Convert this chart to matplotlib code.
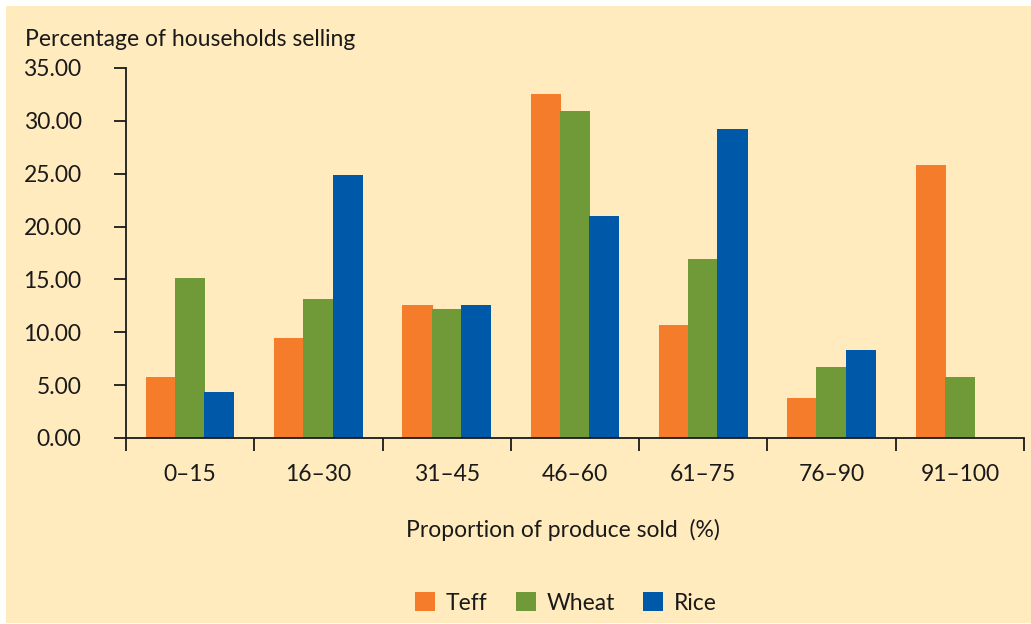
import matplotlib
matplotlib.use("Agg")
import matplotlib.pyplot as plt
from matplotlib.patches import Rectangle, Patch
import numpy as np

categories = ["0–15", "16–30", "31–45", "46–60", "61–75", "76–90", "91–100"]
teff = [5.8, 9.45, 12.6, 32.5, 10.7, 3.8, 25.8]
wheat = [15.1, 13.15, 12.2, 30.9, 16.9, 6.7, 5.8]
rice = [4.35, 24.9, 12.6, 21.0, 29.2, 8.3, 0.0]
series_names = ["Teff", "Wheat", "Rice"]
yticks = [0, 5, 10, 15, 20, 25, 30, 35]

colors = ["#F47C2B", "#6F9A37", "#0058A8"]
bg = "#FFEBBE"
plt.rcParams['font.family'] = ['Lato', 'DejaVu Sans']

fig = plt.figure(figsize=(10.31, 6.24), dpi=100, facecolor="white")
fig.patches.append(Rectangle((6/1031, 1/624), 1 - 6/1031, 617/624,
                             transform=fig.transFigure, facecolor=bg,
                             edgecolor="none", zorder=-10))

ax = fig.add_axes([126/1031, 186/624, 898/1031, 370/624])
ax.set_facecolor("none")

x = np.arange(len(categories))
w = 0.235
off = 0.228
for i, (vals, c) in enumerate(zip([teff, wheat, rice], colors)):
    ax.bar(x + (i - 1) * off, vals, width=w, color=c, linewidth=0, zorder=2)

ax.set_xlim(-0.5, len(categories) - 0.5)
ax.set_ylim(0, 35)
for s in ["top", "right"]:
    ax.spines[s].set_visible(False)
for s in ["left", "bottom"]:
    ax.spines[s].set_color("#1a1a1a")
    ax.spines[s].set_linewidth(1.3)

ax.set_yticks(yticks)
ax.set_yticklabels([f"{v:.2f}" for v in yticks])
ax.tick_params(axis="y", direction="out", length=9, width=1.3, pad=23,
               labelsize=16.5, colors="#1a1a1a")

ax.set_xticks(np.arange(len(categories) + 1) - 0.5)
ax.set_xticklabels([])
ax.tick_params(axis="x", which="major", direction="out", length=9, width=1.3,
               colors="#1a1a1a")
ax.set_xticks(x, minor=True)
ax.set_xticklabels(categories, minor=True)
ax.tick_params(axis="x", which="minor", length=0, pad=19, labelsize=16.5,
               labelcolor="#1a1a1a")

fig.text(25/1031, 1 - 40/624, "Percentage of households selling",
         fontsize=16.5, color="#1a1a1a", va="center", ha="left")
fig.text(563/1031, 1 - 530/624, "Proportion of produce sold  (%)",
         fontsize=16.5, color="#1a1a1a", va="center", ha="center")

handles = [Patch(facecolor=c, edgecolor="none") for c in colors]
fig.legend(handles, series_names, loc="center", bbox_to_anchor=(566/1031, 1 - 603/624),
           ncol=3, frameon=False, fontsize=16.5, handlelength=0.87, handleheight=0.9,
           handletextpad=0.45, columnspacing=1.25, labelcolor="#1a1a1a")

fig.savefig("out.png", dpi=100, facecolor="white")
